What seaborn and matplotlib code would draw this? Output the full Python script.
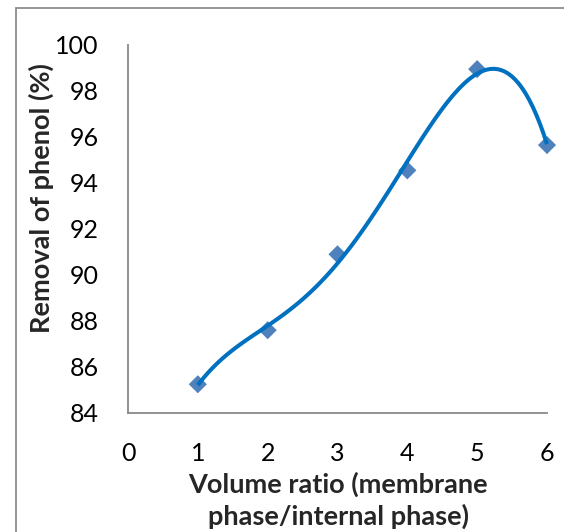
import numpy as np
import pandas as pd
import matplotlib
matplotlib.use("Agg")
import matplotlib.pyplot as plt
from matplotlib.patches import Rectangle
import seaborn as sns

# Measured removal of phenol vs. volume ratio
volume_ratio = [1, 2, 3, 4, 5, 6]
removal = [85.25, 87.6, 90.9, 94.55, 98.95, 95.65]

x_ticks = [0, 1, 2, 3, 4, 5, 6]
y_ticks = [84, 86, 88, 90, 92, 94, 96, 98, 100]

sns.set_theme(style="white")
plt.rcParams["font.family"] = ["Lato", "DejaVu Sans"]

W, H = 564, 532
fig = plt.figure(figsize=(W / 100, H / 100), dpi=100)
ax = fig.add_axes([128 / W, 1 - 413 / H, (547 - 128) / W, (413 - 45) / H])

points = pd.DataFrame({"ratio": volume_ratio, "removal": removal})

# Markers, then a 4th-order polynomial trend line over the data range
sns.scatterplot(data=points, x="ratio", y="removal", marker="D", s=85,
                color="#4F81BD", edgecolor="none", ax=ax, zorder=2,
                clip_on=False)
sns.regplot(data=points, x="ratio", y="removal", order=4, ci=None,
            scatter=False, truncate=True, ax=ax,
            line_kws={"color": "#0070C0", "linewidth": 2.9, "zorder": 3,
                      "clip_on": False, "solid_capstyle": "butt"})

ax.set_xlim(0, 6)
ax.set_ylim(84, 100)
ax.set_xticks(x_ticks)
ax.set_yticks(y_ticks)
ax.set_xticklabels([str(v) for v in x_ticks])
ax.set_yticklabels([str(v) for v in y_ticks])
ax.tick_params(axis="both", length=0, labelsize=18, colors="black")
ax.tick_params(axis="y", pad=21)
ax.tick_params(axis="x", pad=21)
ax.set_xlabel("")
ax.set_ylabel("")

for side in ["top", "right"]:
    ax.spines[side].set_visible(False)
for side in ["left", "bottom"]:
    ax.spines[side].set_color("#898989")
    ax.spines[side].set_linewidth(1.3)

fig.text(41 / W, 1 - 198 / H, "Removal of phenol (%)", rotation=90,
         ha="center", va="center", fontsize=19.5, fontweight="bold")
fig.text(338 / W, 1 - 500 / H, "Volume ratio (membrane\nphase/internal phase)",
         ha="center", va="center", fontsize=19.5, fontweight="bold",
         linespacing=1.3)

# Chart-area frame
fig.patches.append(Rectangle((16 / W, -0.1), 1.2, 1 - 8 / H + 0.1,
                             transform=fig.transFigure, fill=False,
                             edgecolor="#8c8c8c", linewidth=1.3))

fig.savefig("out.png", dpi=100)
